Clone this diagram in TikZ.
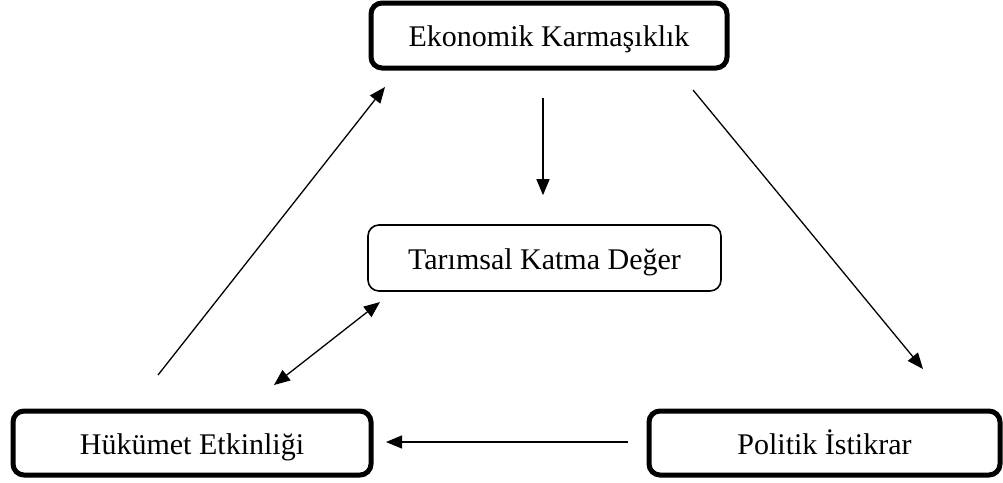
\documentclass[tikz,border=0pt]{standalone}
\usepackage{fontspec}
\setmainfont{Liberation Serif}
\usetikzlibrary{arrows.meta,calc}
\begin{document}
\begin{tikzpicture}[x=1pt,y=-1pt,
  boxtext/.style={font=\fontsize{30}{35}\selectfont,text height=22pt,text depth=0pt},
  thickbox/.style={draw,line width=5pt,rounded corners=11pt,boxtext},
  thinbox/.style={draw,line width=1.6pt,rounded corners=11pt,boxtext},
  arr/.style={line width=1.3pt,-{Triangle[length=16pt,width=13pt]}},
  darr/.style={line width=1.3pt,{Triangle[length=16pt,width=13pt]}-{Triangle[length=16pt,width=13pt]}}]
\useasboundingbox (0,0) rectangle (1003,482);
\node[thickbox,minimum width=356pt,minimum height=65pt] (EK) at (549,35.5) {Ekonomik Karmaşıklık};
\node[thinbox,minimum width=353pt,minimum height=66pt] (TK) at (544.5,258) {Tarımsal Katma Değer};
\node[thickbox,minimum width=358pt,minimum height=64pt] (HE) at (192,443) {Hükümet Etkinliği};
\node[thickbox,minimum width=351pt,minimum height=64pt] (PI) at (824.5,443) {Politik İstikrar};
\draw[arr] ($(EK.south)+(-6,27.5)$) -- ($(TK.north)+(-1.5,-29)$);
\draw[arr] ($(EK.south east)+(-36.5,19.5)$) -- ($(PI.north)+(98.5,-39.5)$);
\draw[arr] ($(HE.north)+(-34,-33.5)$) -- ($(EK.south west)+(16.5,16.5)$);
\draw[darr] ($(TK.south west)+(12.75,10.25)$) -- ($(HE.north)+(82,-23.5)$);
\draw[arr] ($(PI.west)+(-18.5,-1)$) -- ($(HE.east)+(12.5,-1)$);
\end{tikzpicture}
\end{document}
